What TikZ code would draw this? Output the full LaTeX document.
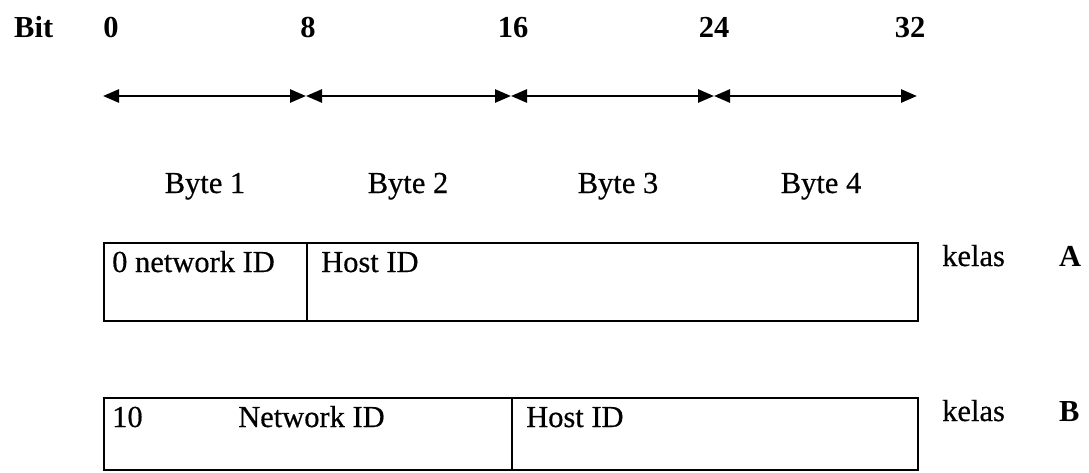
\documentclass[tikz,border=0pt]{standalone}
\usepackage{fontspec}
\setmainfont{Liberation Serif}
\newfontfamily\inkfont{Liberation Serif}[FakeBold=0.5]
\usetikzlibrary{arrows.meta}
\begin{document}
\begin{tikzpicture}[x=1pt,y=-1pt,
  lbl/.style={inner sep=0pt,font=\inkfont\fontsize{30.5}{33}\selectfont},
  boldlbl/.style={inner sep=0pt,font=\fontsize{30.5}{33}\selectfont\bfseries},
  span/.style={line width=2.7pt,{Triangle[length=16pt,width=13pt]}-{Triangle[length=16pt,width=13pt]}},
  field/.style={draw,line width=2.2pt}]
\useasboundingbox (0,0) rectangle (1089,472);

% bit scale
\node[boldlbl,anchor=base west] (bit) at (14,37) {Bit};
\node[boldlbl,anchor=base] (n0)  at (111,37) {0};
\node[boldlbl,anchor=base] (n8)  at (308,37) {8};
\node[boldlbl,anchor=base] (n16) at (513,37) {16};
\node[boldlbl,anchor=base] (n24) at (714,37) {24};
\node[boldlbl,anchor=base] (n32) at (910,37) {32};

\coordinate (a0)  at (103,96);
\coordinate (a8)  at (306,96);
\coordinate (a16) at (511,96);
\coordinate (a24) at (714,96);
\coordinate (a32) at (917,96);
\draw[span] (a0) -- (a8);
\draw[span] (a8) -- (a16);
\draw[span] (a16) -- (a24);
\draw[span] (a24) -- (a32);

\node[lbl,anchor=base] (b1) at (205,193) {Byte 1};
\node[lbl,anchor=base] (b2) at (408,193) {Byte 2};
\node[lbl,anchor=base] (b3) at (618,193) {Byte 3};
\node[lbl,anchor=base] (b4) at (821,193) {Byte 4};

% class A
\draw[field] (104,243) rectangle (918,321);
\draw[field] (307,243) -- (307,321);
\node[lbl,anchor=base west] (anet) at (112,272) {0 network ID};
\node[lbl,anchor=base west] (ahost) at (321,272) {Host ID};
\node[lbl,anchor=base west] (akelas) at (942,266) {kelas};
\node[boldlbl,anchor=base west] (aA) at (1059,266) {A};

% class B
\draw[field] (104,398) rectangle (918,470);
\draw[field] (512,398) -- (512,470);
\node[lbl,anchor=base west] (bten) at (112,427) {10};
\node[lbl,anchor=base west] (bnet) at (238,427) {Network ID};
\node[lbl,anchor=base west] (bhost) at (526,427) {Host ID};
\node[lbl,anchor=base west] (bkelas) at (942,421) {kelas};
\node[boldlbl,anchor=base west] (bB) at (1059,421) {B};
\end{tikzpicture}
\end{document}
